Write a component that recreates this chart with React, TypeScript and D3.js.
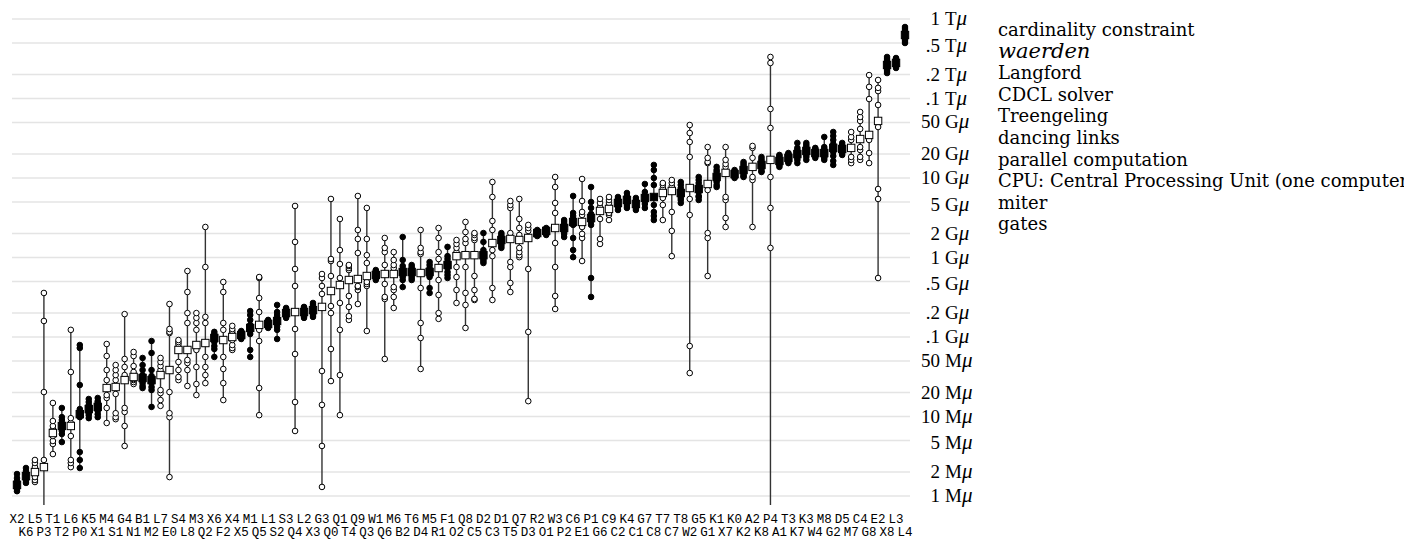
import React from "react";
import * as d3 from "d3";

const topLabels = ["X2","L5","T1","L6","K5","M4","G4","B1","L7","S4","M3","X6","X4","M1","L1","S3","L2","G3","Q1","Q9","W1","M6","T6","M5","F1","Q8","D2","D1","Q7","R2","W3","C6","P1","C9","K4","G7","T7","T8","G5","K1","K0","A2","P4","T3","K3","M8","D5","C4","E2","L3"];
const bottomLabels = ["K6","P3","T2","P0","X1","S1","N1","M2","E0","L8","Q2","F2","X5","Q5","S2","Q4","X3","Q0","T4","Q3","Q6","B2","D4","R1","O2","C5","C3","T5","D3","O1","P2","E1","G6","C2","C1","C8","C7","W2","G1","X7","K2","K8","A1","K7","W4","G2","M7","G8","X8","L4"];

// y ticks, in millions of mems
const tickValues = [1, 2, 5, 10, 20, 50, 100, 200, 500, 1e3, 2e3, 5e3, 1e4, 2e4, 5e4, 1e5, 2e5, 5e5, 1e6];
const tickNumbers = ["1","2","5","10","20","50",".1",".2",".5","1","2","5","10","20","50",".1",".2",".5","1"];
const tickUnits = ["M","M","M","M","M","M","G","G","G","G","G","G","G","G","G","T","T","T","T"];

const legendItems = ["cardinality constraint","waerden","Langford","CDCL solver","Treengeling","dancing links","parallel computation","CPU: Central Processing Unit (one computer)","miter","gates"];
const italicLegend = ["waerden"];

const filledColumns = [0,1,5,7,8,9,14,15,22,25,26,28,29,30,32,33,40,43,44,46,48,52,54,58,59,61,62,64,67,68,69,70,71,74,76,78,80,81,83,85,86,87,88,89,90,91,92,97,98,99];

// running times (millions of mems) for each problem, in label order
const runs: number[][] = [
  [1.89,1.68,1.55,1.46,1.38,1.34,1.30,1.22,1.15],
  [2.25,2.06,1.94,1.83,1.78,1.73,1.64,1.55,1.46],
  [2.84,2.60,2.31,2.00,1.73,1.59,1.50],
  [358,159,20.3,2.84,2.31,0.5,0.4,0.3,0.25],
  [14.8,8.78,7.60,6.96,6.20,5.68,4.92,4.51,3.37],
  [12.8,9.81,9.04,8.29,7.60,7.17,6.57,6.02,4.77],
  [123,36.3,9.53,8.29,7.60,5.68,2.84,2.60,2.31],
  [79.3,72.7,24.9,12.4,10.7,9.81,3.57,2.84,2.25],
  [16.6,15.2,14.0,13.2,12.4,11.7,11.0,10.4,9.53],
  [17.1,15.6,14.8,14.0,13.2,12.4,11.7,10.7,9.81],
  [81.6,57.7,38.4,28.7,22.8,18.6,17.1,12.8,8.29],
  [44.4,38.4,33.2,28.7,23.5,19.2,11.0,9.81,9.26],
  [194,52.9,41.9,33.2,28.7,12.8,11.4,7.60,4.26],
  [64.8,57.7,43.1,36.3,31.4,29.6,28.7,27.1,25.6],
  [54.5,44.4,38.4,33.2,30.5,27.9,26.3,24.2,22.8],
  [89.0,63.0,38.4,32.3,28.7,26.3,23.5,21.5,13.2],
  [54.5,48.5,43.1,38.4,33.2,21.5,19.7,16.1,13.6],
  [260,126,116,112,38.4,20.3,11.0,9.81,1.73],
  [91.6,86.5,81.6,74.8,68.7,48.5,38.4,31.4,28.7],
  [676,368,200,150,68.7,51.4,47.1,38.4,24.2],
  [200,174,150,123,79.3,68.7,41.9,25.6,18.6],
  [2420,759,179,150,84.0,56.1,41.9,33.2,26.3],
  [116,109,103,100,97.2,86.5,77.0,70.6,56.1],
  [492,368,150,123,91.6,56.1,39.6,26.3,16.1],
  [138,126,119,112,100,91.6,79.3,72.7,68.7],
  [119,116,112,109,106,103,100,97.2,94.4],
  [212,189,164,142,130,119,109,68.7,56.1],
  [568,552,309,206,142,123,89.0,22.8,10.4],
  [164,159,155,150,146,142,138,134,130],
  [253,206,189,174,159,146,134,123,94.4],
  [232,225,218,206,200,194,189,183,174],
  [4450,1570,717,438,206,126,61.1,15.2,6.57],
  [239,232,218,212,206,200,189,183,174],
  [268,253,239,225,218,206,200,189,179],
  [620,552,438,348,239,37.3,14.0,4.26,1.30],
  [5450,957,903,585,379,245,200,70.6,27.9],
  [3050,1240,828,552,451,268,123,33.2,10.4],
  [805,782,737,696,521,328,239,183,164],
  [5940,2220,1710,1140,536,438,425,390,260],
  [4200,1710,1070,852,585,492,464,438,119],
  [696,676,657,620,602,585,568,552,521],
  [1760,1320,1170,805,620,464,319,301,52.9],
  [1170,930,805,737,620,425,390,319,232],
  [1810,930,782,717,657,602,568,521,425],
  [805,759,717,676,657,620,585,552,521],
  [2220,1320,1170,1110,638,413,150,97.2,39.6],
  [877,805,737,696,657,602,568,413,358],
  [2350,1760,1170,957,737,521,338,200,169],
  [1360,1040,957,877,805,737,657,602,552],
  [1660,1480,1320,1170,1040,759,568,390,268],
  [2800,2090,1710,1520,1070,759,358,253,130],
  [2030,1920,1760,1660,1070,585,390,301,292],
  [2030,1570,1240,1140,1070,1010,957,903,852],
  [8910,5770,2880,2220,1520,1240,1040,413,292],
  [2030,1920,1810,1710,1660,1570,1480,1400,1320],
  [5140,4580,4200,2030,1710,877,759,478,368],
  [5450,3050,2350,1920,1660,1320,1170,1070,1010],
  [2570,2350,2160,1760,717,116,15.6],
  [2220,2160,2090,2030,1980,1920,1860],
  [2350,2280,2220,2160,2090,2030,1920],
  [10300,7700,4850,3630,2350,1520,759,328,225],
  [2960,2800,2640,2490,2350,2220,2090,1980,1810],
  [5940,3630,3330,3050,2800,2570,1760,1240,1010],
  [9720,5140,3740,3430,2800,2420,1980,1760,903],
  [7700,4990,4200,3530,3140,2800,2570,552,319],
  [5450,4850,4320,3850,3050,1710,1480],
  [5770,5290,4850,4080,3630,3430,2960],
  [5770,5450,5140,4850,4580,4320,3960],
  [6480,5940,5770,5610,5290,4990,4710,4450,4200],
  [5610,5290,4990,4710,4450,4200,3960],
  [8410,6670,5940,5610,5140,4710,4200],
  [14600,12600,10000,8170,5770,4580,3740,3330,2960],
  [8650,8170,7480,6480,5610,4580,2960],
  [9440,8650,7930,6860,3740,2160,1040],
  [8910,8170,7480,6860,6480,5940,5610,5290,4850],
  [46400,36800,28400,18400,7480,5450,3430,77.0,35.2],
  [10300,9440,8650,7930,7270,6670,5940,5770,5290],
  [24500,17900,15900,15400,8410,7060,2030,1760,585],
  [13800,12600,11900,10900,10300,9440,8910,8170,7700],
  [24500,16900,15000,13800,11600,5770,5290,3140,2420],
  [12600,12200,11900,11600,11200,10900,10600,10300,10000],
  [15900,15000,14200,13400,12600,11900,11200,10600,10300],
  [25300,23900,17900,13800,10300,9440,2420],
  [18400,17300,16400,15400,14600,13800,13000,12200,11900],
  [333000,280000,73800,42600,16900,10300,4200,1320,0.3],
  [19500,18900,17900,17300,16400,15900,15000,14600,13800],
  [20600,20000,19500,18400,17900,17300,16900,15900,15400],
  [27600,23900,22500,21200,20000,18900,17900,16900,15400],
  [27600,26000,24500,23200,21900,20600,19500,18400,16900],
  [23900,23200,22500,21200,20600,20000,19500,18900,17900],
  [32800,24500,23200,21900,20600,19500,18400,17900,16900],
  [37900,33800,30100,26800,23900,21200,18900,16400,14600],
  [27600,26000,25300,23900,23200,22500,21200,20600,19500],
  [37900,32800,30100,23900,18400,16900,15400],
  [67700,58500,52200,41400,30900,24500,22500,18400,16900],
  [197000,140000,98500,34800,30100,20600,15400],
  [171000,136000,124000,82900,52200,43800,7270,5450,552],
  [333000,314000,296000,280000,264000,249000,235000,222000,209000],
  [323000,314000,305000,288000,280000,272000,264000,256000,242000],
  [793000,749000,707000,667000,629000,594000,560000,529000,499000],
];

const serif = "'Liberation Serif', 'DejaVu Serif', serif";
const legendFont = "'DejaVu Serif', 'Liberation Serif', serif";
const mono = "'Liberation Mono', 'DejaVu Sans Mono', monospace";

export default function App() {
  const names = d3.range(runs.length).map((i) => (i % 2 === 0 ? topLabels[i / 2] : bottomLabels[(i - 1) / 2]));
  const x = d3.scalePoint<string>().domain(names).range([17, 905]);
  const y = d3.scaleLog().domain([1, 1e6]).range([496, 19]);
  const filledSet = new Set(filledColumns);
  const half = 3.7;

  return (
    <div style={{ position: "absolute", left: 0, top: 0 }}>
      <svg width={1404} height={540} style={{ display: "block", background: "#fff" }}>
        <defs>
          <clipPath id="plotClip">
            <rect x={0} y={0} width={915} height={505} />
          </clipPath>
        </defs>
        <g>
          {tickValues.map((t, i) => (
            <line key={"g" + i} x1={12} x2={910} y1={y(t)} y2={y(t)} stroke="#e4e4e4" strokeWidth={1.5} />
          ))}
        </g>
        <g clipPath="url(#plotClip)">
          {runs.map((vals, i) => {
            const cx = x(names[i])!;
            const sorted = d3.sort(vals);
            const med = d3.median(sorted)!;
            const medIdx = Math.floor(sorted.length / 2);
            const filled = filledSet.has(i);
            const ext = d3.extent(sorted) as [number, number];
            return (
              <g key={"c" + i}>
                <line x1={cx} x2={cx} y1={y(ext[0])} y2={y(ext[1])} stroke="#333" strokeWidth={1.4} />
                {sorted.map((v, j) =>
                  j === medIdx ? null : (
                    <circle key={j} cx={cx} cy={y(v)} r={2.8} fill={filled ? "#000" : "#fff"} stroke="#000" strokeWidth={1} />
                  )
                )}
                <rect x={cx - half} y={y(med) - half} width={half * 2} height={half * 2} fill={filled ? "#000" : "#fff"} stroke="#000" strokeWidth={1} />
              </g>
            );
          })}
        </g>
        <g fontFamily={mono} fontSize={12.5} fill="#000">
          {names.map((n, i) => (
            <text key={"x" + i} x={x(n)} y={i % 2 === 0 ? 523 : 536} textAnchor="middle">
              {n}
            </text>
          ))}
        </g>
        <g fontFamily={serif} fontSize={19} fill="#000">
          {tickValues.map((t, i) => {
            const ty = y(t) + 6 + (tickNumbers[i].endsWith("5") ? 3 : 0);
            return (
              <g key={"t" + i}>
                <text x={940} y={ty} textAnchor="end">{tickNumbers[i]}</text>
                <text x={945} y={ty}>
                  {tickUnits[i]}
                  <tspan fontStyle="italic" fontSize={21}>μ</tspan>
                </text>
              </g>
            );
          })}
        </g>
        <g fontFamily={legendFont} fill="#000">
          {legendItems.map((s, i) => (
            <text
              key={"l" + i}
              x={998}
              y={36 + i * 21.6}
              fontSize={italicLegend.includes(s) ? 21 : 18}
              fontStyle={italicLegend.includes(s) ? "italic" : "normal"}
            >
              {s}
            </text>
          ))}
        </g>
      </svg>
    </div>
  );
}
